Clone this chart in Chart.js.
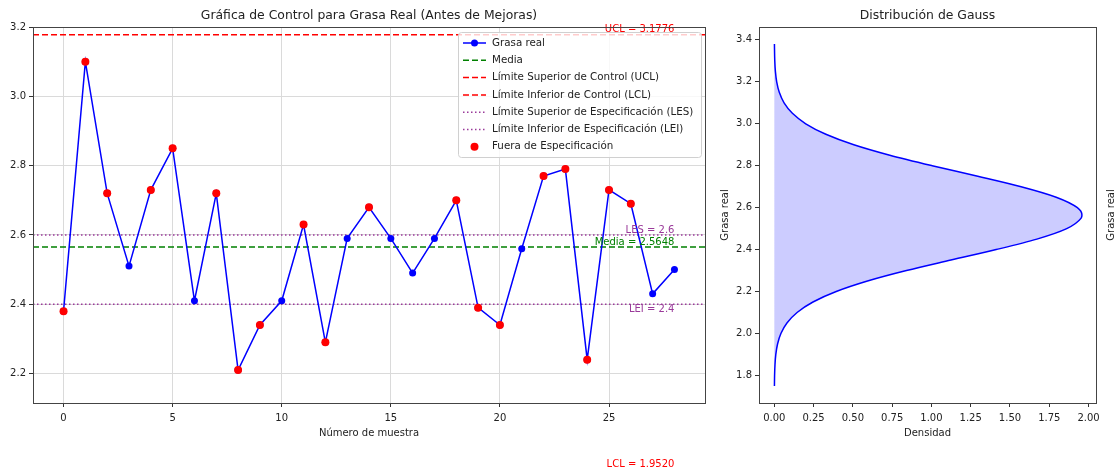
<!DOCTYPE html>
<html>
<head>
<title>Gráfica de Control para Grasa Real</title>
<script src="https://cdn.jsdelivr.net/npm/chart.js"></script>
<style>
    body { margin: 0; background: #fff; }
    #wrap { position: relative; width: 1115px; height: 472px; }
    #control { position: absolute; left: 0; top: 0; }
    #gauss { position: absolute; left: 715px; top: 0; }
</style>
</head>
<body>
<div id="wrap">
    <canvas id="control" width="715" height="472"></canvas>
    <canvas id="gauss" width="400" height="472"></canvas>
</div>
<script>
// datos
const muestras = [0,1,2,3,4,5,6,7,8,9,10,11,12,13,14,15,16,17,18,19,20,21,22,23,24,25,26,27,28];
const grasa = [2.38,3.10,2.72,2.51,2.73,2.85,2.41,2.72,2.21,2.34,2.41,2.63,2.29,2.59,2.68,2.59,2.49,2.59,2.70,2.39,2.34,2.56,2.77,2.79,2.24,2.73,2.69,2.43,2.50];
const media = 2.5648;
const UCL = 3.1776;
const LCL = 1.9520;
const LES = 2.6;
const LEI = 2.4;
const xTicks = [0, 5, 10, 15, 20, 25];
const yTicks = [2.2, 2.4, 2.6, 2.8, 3.0, 3.2];

// curva de Gauss (grasa real vs densidad)
const gaussGrasa = [1.75,1.80,1.85,1.90,1.95,2.00,2.05,2.10,2.15,2.20,2.25,2.30,2.35,2.40,2.45,2.50,2.55,2.5648,2.60,2.65,2.70,2.75,2.80,2.85,2.90,2.95,3.00,3.05,3.10,3.15,3.20,3.25,3.30,3.38];
const gaussDens = [0.0007,0.0017,0.0042,0.0095,0.0206,0.0419,0.0804,0.145,0.246,0.394,0.593,0.841,1.124,1.412,1.671,1.861,1.953,1.958,1.929,1.794,1.571,1.295,1.005,0.735,0.506,0.328,0.200,0.115,0.062,0.0316,0.0151,0.0068,0.0029,0.0007];
const densTicks = [0, 0.25, 0.5, 0.75, 1.0, 1.25, 1.5, 1.75, 2.0];
const gaussTicks = [1.8, 2.0, 2.2, 2.4, 2.6, 2.8, 3.0, 3.2, 3.4];

Chart.defaults.font.family = 'DejaVu Sans';
Chart.defaults.font.size = 10;
Chart.defaults.color = '#222';

const FONT = 'DejaVu Sans';
const PURPLE = '#9a3a9a';

function setTicks(list) {
    return (scale) => { scale.ticks = list.map(v => ({ value: v })); };
}

function drawFrame(chart) {
    const a = chart.chartArea;
    const ctx = chart.ctx;
    ctx.save();
    ctx.strokeStyle = '#444';
    ctx.lineWidth = 1;
    ctx.strokeRect(Math.round(a.left) + 0.5, Math.round(a.top) + 0.5, Math.round(a.right - a.left), Math.round(a.bottom - a.top));
    ctx.restore();
}

function text(ctx, str, x, y, opts) {
    ctx.save();
    ctx.font = (opts.size || 10) + 'px ' + FONT;
    ctx.fillStyle = opts.color || '#222';
    ctx.textAlign = opts.align || 'center';
    ctx.textBaseline = opts.baseline || 'middle';
    if (opts.rotate) {
        ctx.translate(x, y);
        ctx.rotate(opts.rotate);
        ctx.fillText(str, 0, 0);
    } else {
        ctx.fillText(str, x, y);
    }
    ctx.restore();
}

// lineas horizontales de control y especificacion
const hLines = [
    { value: media, color: 'green', dash: [6, 3] },
    { value: UCL, color: 'red', dash: [6, 3] },
    { value: LCL, color: 'red', dash: [6, 3] },
    { value: LES, color: PURPLE, dash: [1.5, 2.5] },
    { value: LEI, color: PURPLE, dash: [1.5, 2.5] }
];

const legendItems = [
    { label: 'Grasa real', kind: 'linemarker', color: 'blue' },
    { label: 'Media', kind: 'line', color: 'green', dash: [6, 3] },
    { label: 'Límite Superior de Control (UCL)', kind: 'line', color: 'red', dash: [6, 3] },
    { label: 'Límite Inferior de Control (LCL)', kind: 'line', color: 'red', dash: [6, 3] },
    { label: 'Límite Superior de Especificación (LES)', kind: 'line', color: PURPLE, dash: [1.5, 2.5] },
    { label: 'Límite Inferior de Especificación (LEI)', kind: 'line', color: PURPLE, dash: [1.5, 2.5] },
    { label: 'Fuera de Especificación', kind: 'marker', color: 'red' }
];

const controlPlugin = {
    id: 'controlExtras',
    beforeDatasetsDraw(chart) {
        const ctx = chart.ctx;
        const a = chart.chartArea;
        const ys = chart.scales.y;
        ctx.save();
        ctx.beginPath();
        ctx.rect(a.left, a.top, a.right - a.left, a.bottom - a.top);
        ctx.clip();
        hLines.forEach(l => {
            const y = ys.getPixelForValue(l.value);
            ctx.strokeStyle = l.color;
            ctx.lineWidth = 1.5;
            ctx.setLineDash(l.dash);
            ctx.beginPath();
            ctx.moveTo(a.left, y);
            ctx.lineTo(a.right, y);
            ctx.stroke();
        });
        ctx.restore();
    },
    afterDatasetsDraw(chart) {
        const ctx = chart.ctx;
        const xs = chart.scales.x, ys = chart.scales.y;
        const x = xs.getPixelForValue(muestras[muestras.length - 1]);
        text(ctx, 'UCL = ' + UCL.toFixed(4), x, ys.getPixelForValue(UCL), { color: 'red', align: 'right', baseline: 'bottom' });
        text(ctx, 'LCL = ' + LCL.toFixed(4), x, ys.getPixelForValue(LCL), { color: 'red', align: 'right', baseline: 'top' });
        text(ctx, 'Media = ' + media.toFixed(4), x, ys.getPixelForValue(media), { color: 'green', align: 'right', baseline: 'bottom' });
        text(ctx, 'LES = ' + LES, x, ys.getPixelForValue(LES), { color: PURPLE, align: 'right', baseline: 'bottom' });
        text(ctx, 'LEI = ' + LEI, x, ys.getPixelForValue(LEI), { color: PURPLE, align: 'right', baseline: 'top' });
    },
    afterDraw(chart) {
        const ctx = chart.ctx;
        const a = chart.chartArea;
        drawFrame(chart);
        const cx = (a.left + a.right) / 2;
        text(ctx, 'Gráfica de Control para Grasa Real (Antes de Mejoras)', cx, 16, { size: 12.4 });
        text(ctx, 'Número de muestra', cx, 433, { size: 10 });

        // leyenda
        const bx = 458, by = 32, bw = 243, bh = 125, step = 17.3;
        ctx.save();
        ctx.fillStyle = 'rgba(255,255,255,0.8)';
        ctx.strokeStyle = '#d0d0d0';
        ctx.lineWidth = 1;
        ctx.beginPath();
        ctx.roundRect(bx + 0.5, by + 0.5, bw, bh, 3);
        ctx.fill();
        ctx.stroke();
        legendItems.forEach((it, i) => {
            const y = by + 11 + i * step;
            if (it.kind !== 'marker') {
                ctx.strokeStyle = it.color;
                ctx.lineWidth = 1.5;
                ctx.setLineDash(it.dash || []);
                ctx.beginPath();
                ctx.moveTo(463, y);
                ctx.lineTo(486, y);
                ctx.stroke();
                ctx.setLineDash([]);
            }
            if (it.kind !== 'line') {
                ctx.fillStyle = it.color;
                ctx.beginPath();
                ctx.arc(474.5, y, it.kind === 'marker' ? 4 : 3.5, 0, Math.PI * 2);
                ctx.fill();
            }
            text(ctx, it.label, 492, y, { align: 'left', size: 10.3 });
        });
        ctx.restore();
    }
};

const puntos = muestras.map((m, i) => ({ x: m, y: grasa[i] }));
const fuera = puntos.filter(p => p.y > LES || p.y < LEI);

new Chart(document.getElementById('control'), {
    type: 'line',
    data: {
        datasets: [
            {
                label: 'Fuera de Especificación',
                data: fuera,
                showLine: false,
                pointRadius: 4,
                pointBackgroundColor: 'red',
                pointBorderWidth: 0,
                order: 0
            },
            {
                label: 'Grasa real',
                data: puntos,
                borderColor: 'blue',
                borderWidth: 1.5,
                pointRadius: 3.5,
                pointBackgroundColor: 'blue',
                pointBorderWidth: 0,
                tension: 0,
                order: 1
            }
        ]
    },
    options: {
        responsive: false,
        animation: false,
        layout: { padding: { left: 0, right: 10, top: 27, bottom: 0 } },
        plugins: { legend: { display: false }, tooltip: { enabled: false } },
        scales: {
            x: {
                type: 'linear',
                min: -1.4,
                max: 29.4,
                afterBuildTicks: setTicks(xTicks),
                afterFit: (s) => { s.height = 69; },
                border: { display: false },
                grid: { color: '#dadada', tickColor: '#333', tickLength: 4 },
                ticks: { maxRotation: 0, autoSkip: false, padding: 5 }
            },
            y: {
                type: 'linear',
                min: 2.115,
                max: 3.2,
                afterBuildTicks: setTicks(yTicks),
                afterFit: (s) => { s.width = 33; },
                border: { display: false },
                grid: { color: '#dadada', tickColor: '#333', tickLength: 4 },
                ticks: { autoSkip: false, padding: 3, callback: v => v.toFixed(1) }
            }
        }
    },
    plugins: [controlPlugin]
});

const gaussPlugin = {
    id: 'gaussExtras',
    afterDraw(chart) {
        const ctx = chart.ctx;
        const a = chart.chartArea;
        drawFrame(chart);
        const cx = (a.left + a.right) / 2;
        text(ctx, 'Distribución de Gauss', cx, 16, { size: 12.4 });
        text(ctx, 'Densidad', cx, 433, { size: 10 });
        const cy = (a.top + a.bottom) / 2;
        text(ctx, 'Grasa real', 10, cy, { size: 10, rotate: -Math.PI / 2 });
        text(ctx, 'Grasa real', 396, cy, { size: 10, rotate: -Math.PI / 2 });
    }
};

new Chart(document.getElementById('gauss'), {
    type: 'line',
    data: {
        datasets: [{
            label: 'Gauss',
            data: gaussGrasa.map((g, i) => ({ x: gaussDens[i], y: g })),
            borderColor: 'blue',
            borderWidth: 1.5,
            pointRadius: 0,
            fill: 'origin',
            backgroundColor: 'rgba(0,0,255,0.2)',
            cubicInterpolationMode: 'monotone'
        }]
    },
    options: {
        responsive: false,
        animation: false,
        indexAxis: 'y',
        layout: { padding: { left: 0, right: 19, top: 27, bottom: 0 } },
        plugins: { legend: { display: false }, tooltip: { enabled: false } },
        scales: {
            x: {
                type: 'linear',
                min: -0.0975,
                max: 2.0475,
                afterBuildTicks: setTicks(densTicks),
                afterFit: (s) => { s.height = 69; },
                border: { display: false },
                grid: { drawOnChartArea: false, tickColor: '#333', tickLength: 4 },
                ticks: { maxRotation: 0, autoSkip: false, padding: 5, callback: v => v.toFixed(2) }
            },
            y: {
                type: 'linear',
                min: 1.6685,
                max: 3.4615,
                afterBuildTicks: setTicks(gaussTicks),
                afterFit: (s) => { s.width = 44; },
                border: { display: false },
                grid: { drawOnChartArea: false, tickColor: '#333', tickLength: 4 },
                ticks: { autoSkip: false, padding: 3, callback: v => v.toFixed(1) }
            }
        }
    },
    plugins: [gaussPlugin]
});
</script>
</body>
</html>
